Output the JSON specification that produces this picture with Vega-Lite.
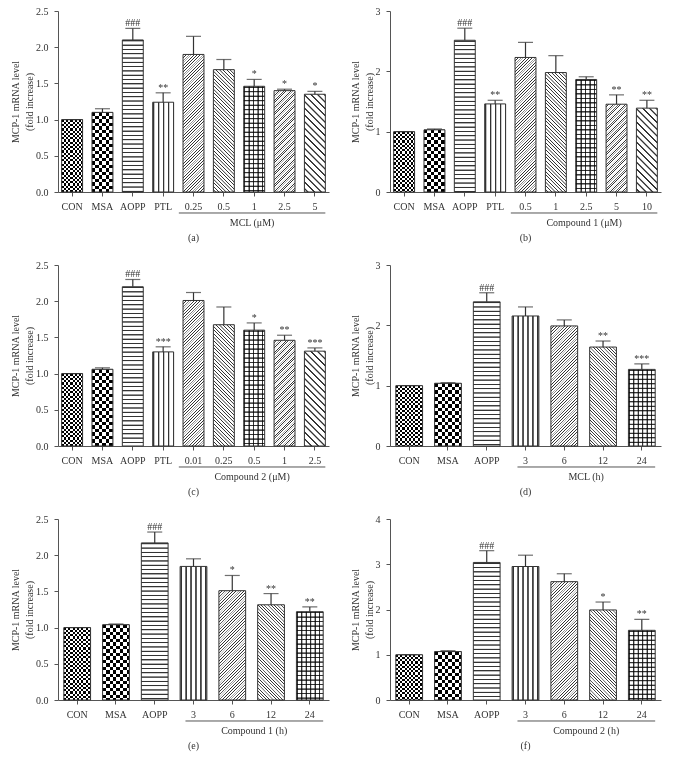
{
"$schema":"https://vega.github.io/schema/vega-lite/v6.json",
"background":"white",
"padding":{"left":10,"top":6,"right":5,"bottom":5},
"params":[
{"name":"sqStops","value":[{"offset":0,"color":"#000"},
{"offset":0.0125,"color":"#000"},{"offset":0.0125,"color":"#fff"},{"offset":0.025,"color":"#fff"},{"offset":0.025,"color":"#000"},
{"offset":0.0375,"color":"#000"},{"offset":0.0375,"color":"#fff"},{"offset":0.05,"color":"#fff"},{"offset":0.05,"color":"#000"},
{"offset":0.0625,"color":"#000"},{"offset":0.0625,"color":"#fff"},{"offset":0.075,"color":"#fff"},{"offset":0.075,"color":"#000"},
{"offset":0.0875,"color":"#000"},{"offset":0.0875,"color":"#fff"},{"offset":0.1,"color":"#fff"},{"offset":0.1,"color":"#000"},
{"offset":0.1125,"color":"#000"},{"offset":0.1125,"color":"#fff"},{"offset":0.125,"color":"#fff"},{"offset":0.125,"color":"#000"},
{"offset":0.1375,"color":"#000"},{"offset":0.1375,"color":"#fff"},{"offset":0.15,"color":"#fff"},{"offset":0.15,"color":"#000"},
{"offset":0.1625,"color":"#000"},{"offset":0.1625,"color":"#fff"},{"offset":0.175,"color":"#fff"},{"offset":0.175,"color":"#000"},
{"offset":0.1875,"color":"#000"},{"offset":0.1875,"color":"#fff"},{"offset":0.2,"color":"#fff"},{"offset":0.2,"color":"#000"},
{"offset":0.2125,"color":"#000"},{"offset":0.2125,"color":"#fff"},{"offset":0.225,"color":"#fff"},{"offset":0.225,"color":"#000"},
{"offset":0.2375,"color":"#000"},{"offset":0.2375,"color":"#fff"},{"offset":0.25,"color":"#fff"},{"offset":0.25,"color":"#000"},
{"offset":0.2625,"color":"#000"},{"offset":0.2625,"color":"#fff"},{"offset":0.275,"color":"#fff"},{"offset":0.275,"color":"#000"},
{"offset":0.2875,"color":"#000"},{"offset":0.2875,"color":"#fff"},{"offset":0.3,"color":"#fff"},{"offset":0.3,"color":"#000"},
{"offset":0.3125,"color":"#000"},{"offset":0.3125,"color":"#fff"},{"offset":0.325,"color":"#fff"},{"offset":0.325,"color":"#000"},
{"offset":0.3375,"color":"#000"},{"offset":0.3375,"color":"#fff"},{"offset":0.35,"color":"#fff"},{"offset":0.35,"color":"#000"},
{"offset":0.3625,"color":"#000"},{"offset":0.3625,"color":"#fff"},{"offset":0.375,"color":"#fff"},{"offset":0.375,"color":"#000"},
{"offset":0.3875,"color":"#000"},{"offset":0.3875,"color":"#fff"},{"offset":0.4,"color":"#fff"},{"offset":0.4,"color":"#000"},
{"offset":0.4125,"color":"#000"},{"offset":0.4125,"color":"#fff"},{"offset":0.425,"color":"#fff"},{"offset":0.425,"color":"#000"},
{"offset":0.4375,"color":"#000"},{"offset":0.4375,"color":"#fff"},{"offset":0.45,"color":"#fff"},{"offset":0.45,"color":"#000"},
{"offset":0.4625,"color":"#000"},{"offset":0.4625,"color":"#fff"},{"offset":0.475,"color":"#fff"},{"offset":0.475,"color":"#000"},
{"offset":0.4875,"color":"#000"},{"offset":0.4875,"color":"#fff"},{"offset":0.5,"color":"#fff"},{"offset":0.5,"color":"#000"},
{"offset":0.5125,"color":"#000"},{"offset":0.5125,"color":"#fff"},{"offset":0.525,"color":"#fff"},{"offset":0.525,"color":"#000"},
{"offset":0.5375,"color":"#000"},{"offset":0.5375,"color":"#fff"},{"offset":0.55,"color":"#fff"},{"offset":0.55,"color":"#000"},
{"offset":0.5625,"color":"#000"},{"offset":0.5625,"color":"#fff"},{"offset":0.575,"color":"#fff"},{"offset":0.575,"color":"#000"},
{"offset":0.5875,"color":"#000"},{"offset":0.5875,"color":"#fff"},{"offset":0.6,"color":"#fff"},{"offset":0.6,"color":"#000"},
{"offset":0.6125,"color":"#000"},{"offset":0.6125,"color":"#fff"},{"offset":0.625,"color":"#fff"},{"offset":0.625,"color":"#000"},
{"offset":0.6375,"color":"#000"},{"offset":0.6375,"color":"#fff"},{"offset":0.65,"color":"#fff"},{"offset":0.65,"color":"#000"},
{"offset":0.6625,"color":"#000"},{"offset":0.6625,"color":"#fff"},{"offset":0.675,"color":"#fff"},{"offset":0.675,"color":"#000"},
{"offset":0.6875,"color":"#000"},{"offset":0.6875,"color":"#fff"},{"offset":0.7,"color":"#fff"},{"offset":0.7,"color":"#000"},
{"offset":0.7125,"color":"#000"},{"offset":0.7125,"color":"#fff"},{"offset":0.725,"color":"#fff"},{"offset":0.725,"color":"#000"},
{"offset":0.7375,"color":"#000"},{"offset":0.7375,"color":"#fff"},{"offset":0.75,"color":"#fff"},{"offset":0.75,"color":"#000"},
{"offset":0.7625,"color":"#000"},{"offset":0.7625,"color":"#fff"},{"offset":0.775,"color":"#fff"},{"offset":0.775,"color":"#000"},
{"offset":0.7875,"color":"#000"},{"offset":0.7875,"color":"#fff"},{"offset":0.8,"color":"#fff"},{"offset":0.8,"color":"#000"},
{"offset":0.8125,"color":"#000"},{"offset":0.8125,"color":"#fff"},{"offset":0.825,"color":"#fff"},{"offset":0.825,"color":"#000"},
{"offset":0.8375,"color":"#000"},{"offset":0.8375,"color":"#fff"},{"offset":0.85,"color":"#fff"},{"offset":0.85,"color":"#000"},
{"offset":0.8625,"color":"#000"},{"offset":0.8625,"color":"#fff"},{"offset":0.875,"color":"#fff"},{"offset":0.875,"color":"#000"},
{"offset":0.8875,"color":"#000"},{"offset":0.8875,"color":"#fff"},{"offset":0.9,"color":"#fff"},{"offset":0.9,"color":"#000"},
{"offset":0.9125,"color":"#000"},{"offset":0.9125,"color":"#fff"},{"offset":0.925,"color":"#fff"},{"offset":0.925,"color":"#000"},
{"offset":0.9375,"color":"#000"},{"offset":0.9375,"color":"#fff"},{"offset":0.95,"color":"#fff"},{"offset":0.95,"color":"#000"},
{"offset":0.9625,"color":"#000"},{"offset":0.9625,"color":"#fff"},{"offset":0.975,"color":"#fff"},{"offset":0.975,"color":"#000"},
{"offset":0.9875,"color":"#000"},{"offset":0.9875,"color":"#fff"},{"offset":1,"color":"#fff"}]},
{"name":"lnStops","value":[
{"offset":0,"color":"#fff"},{"offset":0.002,"color":"#333"},{"offset":0.0047,"color":"#333"},{"offset":0.0067,"color":"#fff"},
{"offset":0.0167,"color":"#fff"},{"offset":0.0187,"color":"#333"},{"offset":0.0214,"color":"#333"},{"offset":0.0234,"color":"#fff"},
{"offset":0.0333,"color":"#fff"},{"offset":0.0353,"color":"#333"},{"offset":0.038,"color":"#333"},{"offset":0.04,"color":"#fff"},
{"offset":0.05,"color":"#fff"},{"offset":0.052,"color":"#333"},{"offset":0.0547,"color":"#333"},{"offset":0.0567,"color":"#fff"},
{"offset":0.0667,"color":"#fff"},{"offset":0.0687,"color":"#333"},{"offset":0.0714,"color":"#333"},{"offset":0.0734,"color":"#fff"},
{"offset":0.0833,"color":"#fff"},{"offset":0.0853,"color":"#333"},{"offset":0.088,"color":"#333"},{"offset":0.09,"color":"#fff"},
{"offset":0.1,"color":"#fff"},{"offset":0.102,"color":"#333"},{"offset":0.1047,"color":"#333"},{"offset":0.1067,"color":"#fff"},
{"offset":0.1167,"color":"#fff"},{"offset":0.1187,"color":"#333"},{"offset":0.1214,"color":"#333"},{"offset":0.1234,"color":"#fff"},
{"offset":0.1333,"color":"#fff"},{"offset":0.1353,"color":"#333"},{"offset":0.138,"color":"#333"},{"offset":0.14,"color":"#fff"},
{"offset":0.15,"color":"#fff"},{"offset":0.152,"color":"#333"},{"offset":0.1547,"color":"#333"},{"offset":0.1567,"color":"#fff"},
{"offset":0.1667,"color":"#fff"},{"offset":0.1687,"color":"#333"},{"offset":0.1714,"color":"#333"},{"offset":0.1734,"color":"#fff"},
{"offset":0.1833,"color":"#fff"},{"offset":0.1853,"color":"#333"},{"offset":0.188,"color":"#333"},{"offset":0.19,"color":"#fff"},
{"offset":0.2,"color":"#fff"},{"offset":0.202,"color":"#333"},{"offset":0.2047,"color":"#333"},{"offset":0.2067,"color":"#fff"},
{"offset":0.2167,"color":"#fff"},{"offset":0.2187,"color":"#333"},{"offset":0.2214,"color":"#333"},{"offset":0.2234,"color":"#fff"},
{"offset":0.2333,"color":"#fff"},{"offset":0.2353,"color":"#333"},{"offset":0.238,"color":"#333"},{"offset":0.24,"color":"#fff"},
{"offset":0.25,"color":"#fff"},{"offset":0.252,"color":"#333"},{"offset":0.2547,"color":"#333"},{"offset":0.2567,"color":"#fff"},
{"offset":0.2667,"color":"#fff"},{"offset":0.2687,"color":"#333"},{"offset":0.2714,"color":"#333"},{"offset":0.2734,"color":"#fff"},
{"offset":0.2833,"color":"#fff"},{"offset":0.2853,"color":"#333"},{"offset":0.288,"color":"#333"},{"offset":0.29,"color":"#fff"},
{"offset":0.3,"color":"#fff"},{"offset":0.302,"color":"#333"},{"offset":0.3047,"color":"#333"},{"offset":0.3067,"color":"#fff"},
{"offset":0.3167,"color":"#fff"},{"offset":0.3187,"color":"#333"},{"offset":0.3214,"color":"#333"},{"offset":0.3234,"color":"#fff"},
{"offset":0.3333,"color":"#fff"},{"offset":0.3353,"color":"#333"},{"offset":0.338,"color":"#333"},{"offset":0.34,"color":"#fff"},
{"offset":0.35,"color":"#fff"},{"offset":0.352,"color":"#333"},{"offset":0.3547,"color":"#333"},{"offset":0.3567,"color":"#fff"},
{"offset":0.3667,"color":"#fff"},{"offset":0.3687,"color":"#333"},{"offset":0.3714,"color":"#333"},{"offset":0.3734,"color":"#fff"},
{"offset":0.3833,"color":"#fff"},{"offset":0.3853,"color":"#333"},{"offset":0.388,"color":"#333"},{"offset":0.39,"color":"#fff"},
{"offset":0.4,"color":"#fff"},{"offset":0.402,"color":"#333"},{"offset":0.4047,"color":"#333"},{"offset":0.4067,"color":"#fff"},
{"offset":0.4167,"color":"#fff"},{"offset":0.4187,"color":"#333"},{"offset":0.4214,"color":"#333"},{"offset":0.4234,"color":"#fff"},
{"offset":0.4333,"color":"#fff"},{"offset":0.4353,"color":"#333"},{"offset":0.438,"color":"#333"},{"offset":0.44,"color":"#fff"},
{"offset":0.45,"color":"#fff"},{"offset":0.452,"color":"#333"},{"offset":0.4547,"color":"#333"},{"offset":0.4567,"color":"#fff"},
{"offset":0.4667,"color":"#fff"},{"offset":0.4687,"color":"#333"},{"offset":0.4714,"color":"#333"},{"offset":0.4734,"color":"#fff"},
{"offset":0.4833,"color":"#fff"},{"offset":0.4853,"color":"#333"},{"offset":0.488,"color":"#333"},{"offset":0.49,"color":"#fff"},
{"offset":0.5,"color":"#fff"},{"offset":0.502,"color":"#333"},{"offset":0.5047,"color":"#333"},{"offset":0.5067,"color":"#fff"},
{"offset":0.5167,"color":"#fff"},{"offset":0.5187,"color":"#333"},{"offset":0.5214,"color":"#333"},{"offset":0.5234,"color":"#fff"},
{"offset":0.5333,"color":"#fff"},{"offset":0.5353,"color":"#333"},{"offset":0.538,"color":"#333"},{"offset":0.54,"color":"#fff"},
{"offset":0.55,"color":"#fff"},{"offset":0.552,"color":"#333"},{"offset":0.5547,"color":"#333"},{"offset":0.5567,"color":"#fff"},
{"offset":0.5667,"color":"#fff"},{"offset":0.5687,"color":"#333"},{"offset":0.5714,"color":"#333"},{"offset":0.5734,"color":"#fff"},
{"offset":0.5833,"color":"#fff"},{"offset":0.5853,"color":"#333"},{"offset":0.588,"color":"#333"},{"offset":0.59,"color":"#fff"},
{"offset":0.6,"color":"#fff"},{"offset":0.602,"color":"#333"},{"offset":0.6047,"color":"#333"},{"offset":0.6067,"color":"#fff"},
{"offset":0.6167,"color":"#fff"},{"offset":0.6187,"color":"#333"},{"offset":0.6214,"color":"#333"},{"offset":0.6234,"color":"#fff"},
{"offset":0.6333,"color":"#fff"},{"offset":0.6353,"color":"#333"},{"offset":0.638,"color":"#333"},{"offset":0.64,"color":"#fff"},
{"offset":0.65,"color":"#fff"},{"offset":0.652,"color":"#333"},{"offset":0.6547,"color":"#333"},{"offset":0.6567,"color":"#fff"},
{"offset":0.6667,"color":"#fff"},{"offset":0.6687,"color":"#333"},{"offset":0.6714,"color":"#333"},{"offset":0.6734,"color":"#fff"},
{"offset":0.6833,"color":"#fff"},{"offset":0.6853,"color":"#333"},{"offset":0.688,"color":"#333"},{"offset":0.69,"color":"#fff"},
{"offset":0.7,"color":"#fff"},{"offset":0.702,"color":"#333"},{"offset":0.7047,"color":"#333"},{"offset":0.7067,"color":"#fff"},
{"offset":0.7167,"color":"#fff"},{"offset":0.7187,"color":"#333"},{"offset":0.7214,"color":"#333"},{"offset":0.7234,"color":"#fff"},
{"offset":0.7333,"color":"#fff"},{"offset":0.7353,"color":"#333"},{"offset":0.738,"color":"#333"},{"offset":0.74,"color":"#fff"},
{"offset":0.75,"color":"#fff"},{"offset":0.752,"color":"#333"},{"offset":0.7547,"color":"#333"},{"offset":0.7567,"color":"#fff"},
{"offset":0.7667,"color":"#fff"},{"offset":0.7687,"color":"#333"},{"offset":0.7714,"color":"#333"},{"offset":0.7734,"color":"#fff"},
{"offset":0.7833,"color":"#fff"},{"offset":0.7853,"color":"#333"},{"offset":0.788,"color":"#333"},{"offset":0.79,"color":"#fff"},
{"offset":0.8,"color":"#fff"},{"offset":0.802,"color":"#333"},{"offset":0.8047,"color":"#333"},{"offset":0.8067,"color":"#fff"},
{"offset":0.8167,"color":"#fff"},{"offset":0.8187,"color":"#333"},{"offset":0.8214,"color":"#333"},{"offset":0.8234,"color":"#fff"},
{"offset":0.8333,"color":"#fff"},{"offset":0.8353,"color":"#333"},{"offset":0.838,"color":"#333"},{"offset":0.84,"color":"#fff"},
{"offset":0.85,"color":"#fff"},{"offset":0.852,"color":"#333"},{"offset":0.8547,"color":"#333"},{"offset":0.8567,"color":"#fff"},
{"offset":0.8667,"color":"#fff"},{"offset":0.8687,"color":"#333"},{"offset":0.8714,"color":"#333"},{"offset":0.8734,"color":"#fff"},
{"offset":0.8833,"color":"#fff"},{"offset":0.8853,"color":"#333"},{"offset":0.888,"color":"#333"},{"offset":0.89,"color":"#fff"},
{"offset":0.9,"color":"#fff"},{"offset":0.902,"color":"#333"},{"offset":0.9047,"color":"#333"},{"offset":0.9067,"color":"#fff"},
{"offset":0.9167,"color":"#fff"},{"offset":0.9187,"color":"#333"},{"offset":0.9214,"color":"#333"},{"offset":0.9234,"color":"#fff"},
{"offset":0.9333,"color":"#fff"},{"offset":0.9353,"color":"#333"},{"offset":0.938,"color":"#333"},{"offset":0.94,"color":"#fff"},
{"offset":0.95,"color":"#fff"},{"offset":0.952,"color":"#333"},{"offset":0.9547,"color":"#333"},{"offset":0.9567,"color":"#fff"},
{"offset":0.9667,"color":"#fff"},{"offset":0.9687,"color":"#333"},{"offset":0.9714,"color":"#333"},{"offset":0.9734,"color":"#fff"},
{"offset":0.9833,"color":"#fff"},{"offset":0.9853,"color":"#333"},{"offset":0.988,"color":"#333"},{"offset":0.99,"color":"#fff"}]}
],
"datasets":{
"a":[{"label":"CON","v":1,"hi":1,"sig":""},{"label":"MSA","v":1.1,"hi":1.15,"sig":""},{"label":"AOPP","v":2.1,"hi":2.26,"sig":"###"},{"label":"PTL","v":1.24,"hi":1.37,"sig":"**"},{"label":"0.25","v":1.9,"hi":2.15,"sig":""},{"label":"0.5","v":1.69,"hi":1.83,"sig":""},{"label":"1","v":1.46,"hi":1.555,"sig":"*"},{"label":"2.5","v":1.4,"hi":1.42,"sig":"*"},{"label":"5","v":1.35,"hi":1.39,"sig":"*"}],
"b":[{"label":"CON","v":1,"hi":1,"sig":""},{"label":"MSA","v":1.03,"hi":1.045,"sig":""},{"label":"AOPP","v":2.515,"hi":2.715,"sig":"###"},{"label":"PTL","v":1.46,"hi":1.52,"sig":"**"},{"label":"0.5","v":2.23,"hi":2.48,"sig":""},{"label":"1","v":1.98,"hi":2.26,"sig":""},{"label":"2.5","v":1.865,"hi":1.91,"sig":""},{"label":"5","v":1.455,"hi":1.61,"sig":"**"},{"label":"10","v":1.39,"hi":1.52,"sig":"**"}],
"c":[{"label":"CON","v":1,"hi":1,"sig":""},{"label":"MSA","v":1.06,"hi":1.08,"sig":""},{"label":"AOPP","v":2.2,"hi":2.3,"sig":"###"},{"label":"PTL","v":1.3,"hi":1.37,"sig":"***"},{"label":"0.01","v":2.01,"hi":2.12,"sig":""},{"label":"0.25","v":1.675,"hi":1.92,"sig":""},{"label":"0.5","v":1.6,"hi":1.7,"sig":"*"},{"label":"1","v":1.46,"hi":1.53,"sig":"**"},{"label":"2.5","v":1.31,"hi":1.355,"sig":"***"}],
"d":[{"label":"CON","v":1,"hi":1,"sig":""},{"label":"MSA","v":1.04,"hi":1.05,"sig":""},{"label":"AOPP","v":2.39,"hi":2.54,"sig":"###"},{"label":"3","v":2.155,"hi":2.305,"sig":""},{"label":"6","v":1.99,"hi":2.09,"sig":""},{"label":"12","v":1.64,"hi":1.74,"sig":"**"},{"label":"24","v":1.27,"hi":1.36,"sig":"***"}],
"e":[{"label":"CON","v":1,"hi":1,"sig":""},{"label":"MSA","v":1.04,"hi":1.05,"sig":""},{"label":"AOPP","v":2.17,"hi":2.32,"sig":"###"},{"label":"3","v":1.845,"hi":1.95,"sig":""},{"label":"6","v":1.51,"hi":1.72,"sig":"*"},{"label":"12","v":1.315,"hi":1.47,"sig":"**"},{"label":"24","v":1.22,"hi":1.285,"sig":"**"}],
"f":[{"label":"CON","v":1,"hi":1,"sig":""},{"label":"MSA","v":1.07,"hi":1.09,"sig":""},{"label":"AOPP","v":3.04,"hi":3.3,"sig":"###"},{"label":"3","v":2.95,"hi":3.2,"sig":""},{"label":"6","v":2.615,"hi":2.79,"sig":""},{"label":"12","v":1.99,"hi":2.165,"sig":"*"},{"label":"24","v":1.54,"hi":1.78,"sig":"**"}]
},
"columns":2,
"spacing":{"row":73,"column":61},
"bounds":"flush",
"concat":[
{"width":271,"height":181,"data":{"name":"a"},"title":{"text":"(a)"},
"encoding":{"x":{"field":"label","type":"nominal","scale":{"domain":["CON","MSA","AOPP","PTL","0.25","0.5","1","2.5","5"],"paddingInner":0.31,"paddingOuter":0.12},"axis":{"title":null}},
"y":{"field":"v","type":"quantitative","scale":{"domain":[0,2.5],"nice":false},"axis":{"values":[0,0.5,1,1.5,2,2.5],"format":".1f","title":["MCP-1 mRNA level","(fold increase)"]}}},
"layer":[
{"mark":{"type":"bar","fill":{"expr":"datum.label=='CON'?{gradient:'linear',x1:0,y1:0,x2:0,y2:176/(datum.v*72.4),stops:sqStops}:datum.label=='MSA'?{gradient:'linear',x1:0,y1:0,x2:0,y2:280/(datum.v*72.4),stops:sqStops}:datum.label=='AOPP'?{gradient:'linear',x1:0,y1:0,x2:0,y2:258/(datum.v*72.4),stops:lnStops}:datum.label=='PTL'?{gradient:'linear',x1:0,y1:0,x2:300/21,y2:0,stops:lnStops}:datum.label=='0.25'?{gradient:'linear',x1:0,y1:0,x2:21*168/(441+pow(datum.v*72.4,2)),y2:datum.v*72.4*168/(441+pow(datum.v*72.4,2)),stops:lnStops}:datum.label=='0.5'?{gradient:'linear',x1:1,y1:0,x2:1-21*216/(441+pow(datum.v*72.4,2)),y2:datum.v*72.4*216/(441+pow(datum.v*72.4,2)),stops:lnStops}:datum.label=='1'?{gradient:'linear',x1:0,y1:0,x2:270/21,y2:0,stops:lnStops}:datum.label=='2.5'?{gradient:'linear',x1:0,y1:0,x2:21*144/(441+pow(datum.v*72.4,2)),y2:datum.v*72.4*144/(441+pow(datum.v*72.4,2)),stops:lnStops}:{gradient:'linear',x1:1,y1:0,x2:1-21*402/(441+pow(datum.v*72.4,2)),y2:datum.v*72.4*402/(441+pow(datum.v*72.4,2)),stops:lnStops}"}}},
{"transform":[{"filter":{"field":"label","oneOf":["CON","MSA"]}}],"mark":{"type":"bar","blend":"difference","fill":{"expr":"datum.label=='CON'?{gradient:'linear',x1:0,y1:0,x2:176/21,y2:0,stops:sqStops}:{gradient:'linear',x1:0,y1:0,x2:280/21,y2:0,stops:sqStops}"}}},
{"transform":[{"filter":{"field":"label","equal":"1"}}],"mark":{"type":"bar","blend":"multiply","fill":{"expr":"{gradient:'linear',x1:0,y1:0,x2:0,y2:270/(datum.v*72.4),stops:lnStops}"}}},
{"mark":{"type":"bar","fill":"transparent","stroke":"#333","strokeWidth":1}},
{"mark":{"type":"rule","color":"#333","strokeWidth":1.2},"encoding":{"y2":{"field":"hi"}}},
{"mark":{"type":"tick","color":"#333","thickness":1.2,"size":15},"encoding":{"y":{"field":"hi","type":"quantitative"}}},
{"mark":{"type":"text","baseline":"alphabetic","dy":-2,"fontSize":10},"encoding":{"y":{"field":"hi","type":"quantitative"},"text":{"field":"sig"}}},
{"transform":[{"filter":{"field":"label","equal":"CON"}}],"mark":{"type":"rule","color":"#555","strokeWidth":1},"encoding":{"x":{"datum":"0.25","bandPosition":-0.2},"x2":{"datum":"5","bandPosition":1},"y":{"datum":-0.29}}},
{"transform":[{"filter":{"field":"label","equal":"CON"}}],"mark":{"type":"text","baseline":"middle","fontSize":10,"text":"MCL (μM)"},"encoding":{"x":{"datum":"1","bandPosition":0.4},"y":{"datum":-0.428}}}
]},
{"width":271,"height":181,"data":{"name":"b"},"title":{"text":"(b)"},
"encoding":{"x":{"field":"label","type":"nominal","scale":{"domain":["CON","MSA","AOPP","PTL","0.5","1","2.5","5","10"],"paddingInner":0.31,"paddingOuter":0.12},"axis":{"title":null}},
"y":{"field":"v","type":"quantitative","scale":{"domain":[0,3],"nice":false},"axis":{"values":[0,1,2,3],"format":"d","title":["MCP-1 mRNA level","(fold increase)"]}}},
"layer":[
{"mark":{"type":"bar","fill":{"expr":"datum.label=='CON'?{gradient:'linear',x1:0,y1:0,x2:0,y2:176/(datum.v*60.33),stops:sqStops}:datum.label=='MSA'?{gradient:'linear',x1:0,y1:0,x2:0,y2:280/(datum.v*60.33),stops:sqStops}:datum.label=='AOPP'?{gradient:'linear',x1:0,y1:0,x2:0,y2:258/(datum.v*60.33),stops:lnStops}:datum.label=='PTL'?{gradient:'linear',x1:0,y1:0,x2:300/21,y2:0,stops:lnStops}:datum.label=='0.5'?{gradient:'linear',x1:0,y1:0,x2:21*168/(441+pow(datum.v*60.33,2)),y2:datum.v*60.33*168/(441+pow(datum.v*60.33,2)),stops:lnStops}:datum.label=='1'?{gradient:'linear',x1:1,y1:0,x2:1-21*216/(441+pow(datum.v*60.33,2)),y2:datum.v*60.33*216/(441+pow(datum.v*60.33,2)),stops:lnStops}:datum.label=='2.5'?{gradient:'linear',x1:0,y1:0,x2:270/21,y2:0,stops:lnStops}:datum.label=='5'?{gradient:'linear',x1:0,y1:0,x2:21*144/(441+pow(datum.v*60.33,2)),y2:datum.v*60.33*144/(441+pow(datum.v*60.33,2)),stops:lnStops}:{gradient:'linear',x1:1,y1:0,x2:1-21*402/(441+pow(datum.v*60.33,2)),y2:datum.v*60.33*402/(441+pow(datum.v*60.33,2)),stops:lnStops}"}}},
{"transform":[{"filter":{"field":"label","oneOf":["CON","MSA"]}}],"mark":{"type":"bar","blend":"difference","fill":{"expr":"datum.label=='CON'?{gradient:'linear',x1:0,y1:0,x2:176/21,y2:0,stops:sqStops}:{gradient:'linear',x1:0,y1:0,x2:280/21,y2:0,stops:sqStops}"}}},
{"transform":[{"filter":{"field":"label","equal":"2.5"}}],"mark":{"type":"bar","blend":"multiply","fill":{"expr":"{gradient:'linear',x1:0,y1:0,x2:0,y2:270/(datum.v*60.33),stops:lnStops}"}}},
{"mark":{"type":"bar","fill":"transparent","stroke":"#333","strokeWidth":1}},
{"mark":{"type":"rule","color":"#333","strokeWidth":1.2},"encoding":{"y2":{"field":"hi"}}},
{"mark":{"type":"tick","color":"#333","thickness":1.2,"size":15},"encoding":{"y":{"field":"hi","type":"quantitative"}}},
{"mark":{"type":"text","baseline":"alphabetic","dy":-2,"fontSize":10},"encoding":{"y":{"field":"hi","type":"quantitative"},"text":{"field":"sig"}}},
{"transform":[{"filter":{"field":"label","equal":"CON"}}],"mark":{"type":"rule","color":"#555","strokeWidth":1},"encoding":{"x":{"datum":"0.5","bandPosition":-0.2},"x2":{"datum":"10","bandPosition":1},"y":{"datum":-0.348}}},
{"transform":[{"filter":{"field":"label","equal":"CON"}}],"mark":{"type":"text","baseline":"middle","fontSize":10,"text":"Compound 1 (μM)"},"encoding":{"x":{"datum":"2.5","bandPosition":0.4},"y":{"datum":-0.514}}}
]},
{"width":271,"height":181,"data":{"name":"c"},"title":{"text":"(c)"},
"encoding":{"x":{"field":"label","type":"nominal","scale":{"domain":["CON","MSA","AOPP","PTL","0.01","0.25","0.5","1","2.5"],"paddingInner":0.31,"paddingOuter":0.12},"axis":{"title":null}},
"y":{"field":"v","type":"quantitative","scale":{"domain":[0,2.5],"nice":false},"axis":{"values":[0,0.5,1,1.5,2,2.5],"format":".1f","title":["MCP-1 mRNA level","(fold increase)"]}}},
"layer":[
{"mark":{"type":"bar","fill":{"expr":"datum.label=='CON'?{gradient:'linear',x1:0,y1:0,x2:0,y2:176/(datum.v*72.4),stops:sqStops}:datum.label=='MSA'?{gradient:'linear',x1:0,y1:0,x2:0,y2:280/(datum.v*72.4),stops:sqStops}:datum.label=='AOPP'?{gradient:'linear',x1:0,y1:0,x2:0,y2:258/(datum.v*72.4),stops:lnStops}:datum.label=='PTL'?{gradient:'linear',x1:0,y1:0,x2:300/21,y2:0,stops:lnStops}:datum.label=='0.01'?{gradient:'linear',x1:0,y1:0,x2:21*168/(441+pow(datum.v*72.4,2)),y2:datum.v*72.4*168/(441+pow(datum.v*72.4,2)),stops:lnStops}:datum.label=='0.25'?{gradient:'linear',x1:1,y1:0,x2:1-21*216/(441+pow(datum.v*72.4,2)),y2:datum.v*72.4*216/(441+pow(datum.v*72.4,2)),stops:lnStops}:datum.label=='0.5'?{gradient:'linear',x1:0,y1:0,x2:270/21,y2:0,stops:lnStops}:datum.label=='1'?{gradient:'linear',x1:0,y1:0,x2:21*144/(441+pow(datum.v*72.4,2)),y2:datum.v*72.4*144/(441+pow(datum.v*72.4,2)),stops:lnStops}:{gradient:'linear',x1:1,y1:0,x2:1-21*402/(441+pow(datum.v*72.4,2)),y2:datum.v*72.4*402/(441+pow(datum.v*72.4,2)),stops:lnStops}"}}},
{"transform":[{"filter":{"field":"label","oneOf":["CON","MSA"]}}],"mark":{"type":"bar","blend":"difference","fill":{"expr":"datum.label=='CON'?{gradient:'linear',x1:0,y1:0,x2:176/21,y2:0,stops:sqStops}:{gradient:'linear',x1:0,y1:0,x2:280/21,y2:0,stops:sqStops}"}}},
{"transform":[{"filter":{"field":"label","equal":"0.5"}}],"mark":{"type":"bar","blend":"multiply","fill":{"expr":"{gradient:'linear',x1:0,y1:0,x2:0,y2:270/(datum.v*72.4),stops:lnStops}"}}},
{"mark":{"type":"bar","fill":"transparent","stroke":"#333","strokeWidth":1}},
{"mark":{"type":"rule","color":"#333","strokeWidth":1.2},"encoding":{"y2":{"field":"hi"}}},
{"mark":{"type":"tick","color":"#333","thickness":1.2,"size":15},"encoding":{"y":{"field":"hi","type":"quantitative"}}},
{"mark":{"type":"text","baseline":"alphabetic","dy":-2,"fontSize":10},"encoding":{"y":{"field":"hi","type":"quantitative"},"text":{"field":"sig"}}},
{"transform":[{"filter":{"field":"label","equal":"CON"}}],"mark":{"type":"rule","color":"#555","strokeWidth":1},"encoding":{"x":{"datum":"0.01","bandPosition":-0.2},"x2":{"datum":"2.5","bandPosition":1},"y":{"datum":-0.29}}},
{"transform":[{"filter":{"field":"label","equal":"CON"}}],"mark":{"type":"text","baseline":"middle","fontSize":10,"text":"Compound 2 (μM)"},"encoding":{"x":{"datum":"0.5","bandPosition":0.4},"y":{"datum":-0.428}}}
]},
{"width":271,"height":181,"data":{"name":"d"},"title":{"text":"(d)"},
"encoding":{"x":{"field":"label","type":"nominal","scale":{"domain":["CON","MSA","AOPP","3","6","12","24"],"paddingInner":0.31,"paddingOuter":0.15},"axis":{"title":null}},
"y":{"field":"v","type":"quantitative","scale":{"domain":[0,3],"nice":false},"axis":{"values":[0,1,2,3],"format":"d","title":["MCP-1 mRNA level","(fold increase)"]}}},
"layer":[
{"mark":{"type":"bar","fill":{"expr":"datum.label=='CON'?{gradient:'linear',x1:0,y1:0,x2:0,y2:176/(datum.v*60.33),stops:sqStops}:datum.label=='MSA'?{gradient:'linear',x1:0,y1:0,x2:0,y2:280/(datum.v*60.33),stops:sqStops}:datum.label=='AOPP'?{gradient:'linear',x1:0,y1:0,x2:0,y2:258/(datum.v*60.33),stops:lnStops}:datum.label=='3'?{gradient:'linear',x1:0,y1:0,x2:300/27,y2:0,stops:lnStops}:datum.label=='6'?{gradient:'linear',x1:0,y1:0,x2:27*168/(729+pow(datum.v*60.33,2)),y2:datum.v*60.33*168/(729+pow(datum.v*60.33,2)),stops:lnStops}:datum.label=='12'?{gradient:'linear',x1:1,y1:0,x2:1-27*198/(729+pow(datum.v*60.33,2)),y2:datum.v*60.33*198/(729+pow(datum.v*60.33,2)),stops:lnStops}:{gradient:'linear',x1:0,y1:0,x2:270/27,y2:0,stops:lnStops}"}}},
{"transform":[{"filter":{"field":"label","oneOf":["CON","MSA"]}}],"mark":{"type":"bar","blend":"difference","fill":{"expr":"datum.label=='CON'?{gradient:'linear',x1:0,y1:0,x2:176/27,y2:0,stops:sqStops}:{gradient:'linear',x1:0,y1:0,x2:280/27,y2:0,stops:sqStops}"}}},
{"transform":[{"filter":{"field":"label","equal":"24"}}],"mark":{"type":"bar","blend":"multiply","fill":{"expr":"{gradient:'linear',x1:0,y1:0,x2:0,y2:270/(datum.v*60.33),stops:lnStops}"}}},
{"mark":{"type":"bar","fill":"transparent","stroke":"#333","strokeWidth":1}},
{"mark":{"type":"rule","color":"#333","strokeWidth":1.2},"encoding":{"y2":{"field":"hi"}}},
{"mark":{"type":"tick","color":"#333","thickness":1.2,"size":15},"encoding":{"y":{"field":"hi","type":"quantitative"}}},
{"mark":{"type":"text","baseline":"alphabetic","dy":-2,"fontSize":10},"encoding":{"y":{"field":"hi","type":"quantitative"},"text":{"field":"sig"}}},
{"transform":[{"filter":{"field":"label","equal":"CON"}}],"mark":{"type":"rule","color":"#555","strokeWidth":1},"encoding":{"x":{"datum":"3","bandPosition":0.2},"x2":{"datum":"24","bandPosition":1},"y":{"datum":-0.348}}},
{"transform":[{"filter":{"field":"label","equal":"CON"}}],"mark":{"type":"text","baseline":"middle","fontSize":10,"text":"MCL (h)"},"encoding":{"x":{"datum":"6","bandPosition":1.32},"y":{"datum":-0.514}}}
]},
{"width":271,"height":181,"data":{"name":"e"},"title":{"text":"(e)"},
"encoding":{"x":{"field":"label","type":"nominal","scale":{"domain":["CON","MSA","AOPP","3","6","12","24"],"paddingInner":0.31,"paddingOuter":0.15},"axis":{"title":null}},
"y":{"field":"v","type":"quantitative","scale":{"domain":[0,2.5],"nice":false},"axis":{"values":[0,0.5,1,1.5,2,2.5],"format":".1f","title":["MCP-1 mRNA level","(fold increase)"]}}},
"layer":[
{"mark":{"type":"bar","fill":{"expr":"datum.label=='CON'?{gradient:'linear',x1:0,y1:0,x2:0,y2:176/(datum.v*72.4),stops:sqStops}:datum.label=='MSA'?{gradient:'linear',x1:0,y1:0,x2:0,y2:280/(datum.v*72.4),stops:sqStops}:datum.label=='AOPP'?{gradient:'linear',x1:0,y1:0,x2:0,y2:258/(datum.v*72.4),stops:lnStops}:datum.label=='3'?{gradient:'linear',x1:0,y1:0,x2:300/27,y2:0,stops:lnStops}:datum.label=='6'?{gradient:'linear',x1:0,y1:0,x2:27*168/(729+pow(datum.v*72.4,2)),y2:datum.v*72.4*168/(729+pow(datum.v*72.4,2)),stops:lnStops}:datum.label=='12'?{gradient:'linear',x1:1,y1:0,x2:1-27*198/(729+pow(datum.v*72.4,2)),y2:datum.v*72.4*198/(729+pow(datum.v*72.4,2)),stops:lnStops}:{gradient:'linear',x1:0,y1:0,x2:270/27,y2:0,stops:lnStops}"}}},
{"transform":[{"filter":{"field":"label","oneOf":["CON","MSA"]}}],"mark":{"type":"bar","blend":"difference","fill":{"expr":"datum.label=='CON'?{gradient:'linear',x1:0,y1:0,x2:176/27,y2:0,stops:sqStops}:{gradient:'linear',x1:0,y1:0,x2:280/27,y2:0,stops:sqStops}"}}},
{"transform":[{"filter":{"field":"label","equal":"24"}}],"mark":{"type":"bar","blend":"multiply","fill":{"expr":"{gradient:'linear',x1:0,y1:0,x2:0,y2:270/(datum.v*72.4),stops:lnStops}"}}},
{"mark":{"type":"bar","fill":"transparent","stroke":"#333","strokeWidth":1}},
{"mark":{"type":"rule","color":"#333","strokeWidth":1.2},"encoding":{"y2":{"field":"hi"}}},
{"mark":{"type":"tick","color":"#333","thickness":1.2,"size":15},"encoding":{"y":{"field":"hi","type":"quantitative"}}},
{"mark":{"type":"text","baseline":"alphabetic","dy":-2,"fontSize":10},"encoding":{"y":{"field":"hi","type":"quantitative"},"text":{"field":"sig"}}},
{"transform":[{"filter":{"field":"label","equal":"CON"}}],"mark":{"type":"rule","color":"#555","strokeWidth":1},"encoding":{"x":{"datum":"3","bandPosition":0.2},"x2":{"datum":"24","bandPosition":1},"y":{"datum":-0.29}}},
{"transform":[{"filter":{"field":"label","equal":"CON"}}],"mark":{"type":"text","baseline":"middle","fontSize":10,"text":"Compound 1 (h)"},"encoding":{"x":{"datum":"6","bandPosition":1.32},"y":{"datum":-0.428}}}
]},
{"width":271,"height":181,"data":{"name":"f"},"title":{"text":"(f)"},
"encoding":{"x":{"field":"label","type":"nominal","scale":{"domain":["CON","MSA","AOPP","3","6","12","24"],"paddingInner":0.31,"paddingOuter":0.15},"axis":{"title":null}},
"y":{"field":"v","type":"quantitative","scale":{"domain":[0,4],"nice":false},"axis":{"values":[0,1,2,3,4],"format":"d","title":["MCP-1 mRNA level","(fold increase)"]}}},
"layer":[
{"mark":{"type":"bar","fill":{"expr":"datum.label=='CON'?{gradient:'linear',x1:0,y1:0,x2:0,y2:176/(datum.v*45.25),stops:sqStops}:datum.label=='MSA'?{gradient:'linear',x1:0,y1:0,x2:0,y2:280/(datum.v*45.25),stops:sqStops}:datum.label=='AOPP'?{gradient:'linear',x1:0,y1:0,x2:0,y2:258/(datum.v*45.25),stops:lnStops}:datum.label=='3'?{gradient:'linear',x1:0,y1:0,x2:300/27,y2:0,stops:lnStops}:datum.label=='6'?{gradient:'linear',x1:0,y1:0,x2:27*168/(729+pow(datum.v*45.25,2)),y2:datum.v*45.25*168/(729+pow(datum.v*45.25,2)),stops:lnStops}:datum.label=='12'?{gradient:'linear',x1:1,y1:0,x2:1-27*198/(729+pow(datum.v*45.25,2)),y2:datum.v*45.25*198/(729+pow(datum.v*45.25,2)),stops:lnStops}:{gradient:'linear',x1:0,y1:0,x2:270/27,y2:0,stops:lnStops}"}}},
{"transform":[{"filter":{"field":"label","oneOf":["CON","MSA"]}}],"mark":{"type":"bar","blend":"difference","fill":{"expr":"datum.label=='CON'?{gradient:'linear',x1:0,y1:0,x2:176/27,y2:0,stops:sqStops}:{gradient:'linear',x1:0,y1:0,x2:280/27,y2:0,stops:sqStops}"}}},
{"transform":[{"filter":{"field":"label","equal":"24"}}],"mark":{"type":"bar","blend":"multiply","fill":{"expr":"{gradient:'linear',x1:0,y1:0,x2:0,y2:270/(datum.v*45.25),stops:lnStops}"}}},
{"mark":{"type":"bar","fill":"transparent","stroke":"#333","strokeWidth":1}},
{"mark":{"type":"rule","color":"#333","strokeWidth":1.2},"encoding":{"y2":{"field":"hi"}}},
{"mark":{"type":"tick","color":"#333","thickness":1.2,"size":15},"encoding":{"y":{"field":"hi","type":"quantitative"}}},
{"mark":{"type":"text","baseline":"alphabetic","dy":-2,"fontSize":10},"encoding":{"y":{"field":"hi","type":"quantitative"},"text":{"field":"sig"}}},
{"transform":[{"filter":{"field":"label","equal":"CON"}}],"mark":{"type":"rule","color":"#555","strokeWidth":1},"encoding":{"x":{"datum":"3","bandPosition":0.2},"x2":{"datum":"24","bandPosition":1},"y":{"datum":-0.464}}},
{"transform":[{"filter":{"field":"label","equal":"CON"}}],"mark":{"type":"text","baseline":"middle","fontSize":10,"text":"Compound 2 (h)"},"encoding":{"x":{"datum":"6","bandPosition":1.32},"y":{"datum":-0.685}}}
]}
],
"config":{
"font":"Liberation Serif",
"view":{"stroke":null},
"axis":{"domainColor":"#555","tickColor":"#555","tickSize":4,"labelColor":"#333","labelFont":"Liberation Serif","labelFontSize":10,"titleFont":"Liberation Serif","titleFontSize":10,"titleFontWeight":"normal","titleColor":"#333","grid":false},
"axisX":{"labelAngle":0,"labelPadding":5},
"axisY":{"labelPadding":6,"titlePadding":1,"titleLineHeight":14},
"text":{"font":"Liberation Serif","color":"#333"},
"title":{"orient":"bottom","anchor":"middle","frame":"group","font":"Liberation Serif","fontSize":10,"fontWeight":"normal","color":"#333","offset":5}
}
}
